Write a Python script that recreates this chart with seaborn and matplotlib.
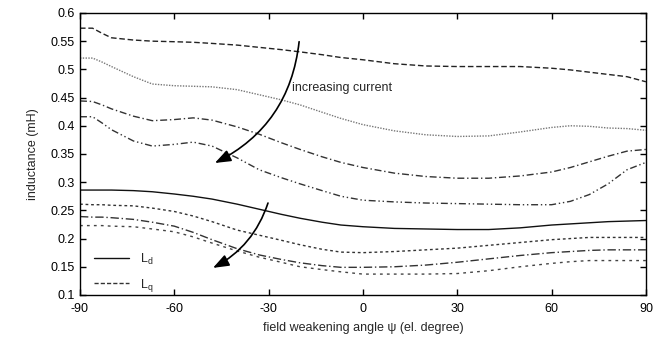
import numpy as np
import pandas as pd
import matplotlib
matplotlib.use("Agg")
import matplotlib.pyplot as plt
import seaborn as sns
from matplotlib.lines import Line2D

# field weakening angle (el. degree)
angle = [-90, -86, -83, -80, -73, -67, -60, -54, -48, -40, -33, -26, -20, -13, -7,
         0, 10, 20, 30, 40, 50, 60, 66, 72, 78, 84, 90]

# upper group (increasing current from top to bottom)
up_1 = [0.573, 0.573, 0.564, 0.556, 0.552, 0.550, 0.549, 0.548, 0.546, 0.543, 0.539, 0.535, 0.531, 0.526,
        0.521, 0.517, 0.510, 0.506, 0.505, 0.505, 0.505, 0.502, 0.499, 0.495, 0.491, 0.487, 0.478]
up_2 = [0.520, 0.520, 0.513, 0.505, 0.487, 0.474, 0.471, 0.470, 0.469, 0.464, 0.455, 0.446, 0.437, 0.424,
        0.413, 0.402, 0.391, 0.384, 0.381, 0.382, 0.389, 0.397, 0.400, 0.399, 0.396, 0.395, 0.392]
up_3 = [0.444, 0.443, 0.437, 0.430, 0.417, 0.409, 0.411, 0.414, 0.410, 0.398, 0.385, 0.370, 0.358, 0.345,
        0.335, 0.326, 0.316, 0.310, 0.307, 0.307, 0.311, 0.318, 0.326, 0.336, 0.346, 0.355, 0.358]
up_4 = [0.416, 0.416, 0.405, 0.393, 0.373, 0.364, 0.367, 0.371, 0.364, 0.343, 0.322, 0.308, 0.297, 0.285,
        0.275, 0.268, 0.265, 0.263, 0.262, 0.261, 0.260, 0.260, 0.266, 0.278, 0.297, 0.322, 0.335]

# lower group
lo_1 = [0.286, 0.286, 0.286, 0.286, 0.285, 0.283, 0.279, 0.275, 0.270, 0.261, 0.252, 0.243, 0.236, 0.229,
        0.224, 0.221, 0.218, 0.217, 0.216, 0.216, 0.219, 0.224, 0.226, 0.228, 0.230, 0.231, 0.232]
lo_2 = [0.261, 0.260, 0.260, 0.259, 0.258, 0.254, 0.248, 0.240, 0.230, 0.215, 0.206, 0.197, 0.189, 0.181,
        0.176, 0.175, 0.177, 0.180, 0.183, 0.188, 0.193, 0.198, 0.200, 0.202, 0.202, 0.202, 0.202]
lo_3 = [0.239, 0.238, 0.238, 0.237, 0.234, 0.229, 0.222, 0.211, 0.198, 0.182, 0.171, 0.163, 0.157, 0.152,
        0.149, 0.149, 0.150, 0.153, 0.158, 0.164, 0.170, 0.175, 0.177, 0.179, 0.180, 0.180, 0.180]
lo_4 = [0.223, 0.223, 0.223, 0.222, 0.221, 0.217, 0.212, 0.203, 0.192, 0.178, 0.167, 0.158, 0.150, 0.145,
        0.141, 0.137, 0.137, 0.137, 0.138, 0.143, 0.150, 0.156, 0.159, 0.161, 0.161, 0.161, 0.161]

x_ticks = [-90, -60, -30, 0, 30, 60, 90]
y_ticks = [0.1, 0.15, 0.2, 0.25, 0.3, 0.35, 0.4, 0.45, 0.5, 0.55, 0.6]
y_tick_labels = ["0.1", "0.15", "0.2", "0.25", "0.3", "0.35", "0.4", "0.45", "0.5", "0.55", "0.6"]

sns.set_style("ticks")
plt.rcParams["font.family"] = ["Liberation Sans", "DejaVu Sans"]
plt.rcParams["mathtext.default"] = "regular"

fig = plt.figure(figsize=(6.7, 3.41), dpi=100)
ax = fig.add_axes([0.1194, 0.135, 0.8446, 0.827])

styles = [
    (up_1, (0, (4, 2)), "#222222"),
    (up_2, (0, (1, 1)), "#777777"),
    (up_3, (0, (5, 2, 1, 2)), "#333333"),
    (up_4, (0, (5, 2, 1, 2, 1, 2)), "#333333"),
    (lo_1, "-", "#111111"),
    (lo_2, (0, (2, 2)), "#333333"),
    (lo_3, (0, (6, 2, 1, 2)), "#333333"),
    (lo_4, (0, (2, 3)), "#444444"),
]
for vals, ls, col in styles:
    sns.lineplot(x=angle, y=vals, ax=ax, color=col, linewidth=1.0)
    ax.lines[-1].set_linestyle(ls)

ax.set_xlim(-90, 90)
ax.set_ylim(0.1, 0.6)
ax.set_xticks(x_ticks)
ax.set_xticklabels([str(t) for t in x_ticks])
ax.set_yticks(y_ticks)
ax.set_yticklabels(y_tick_labels)
ax.tick_params(direction="in", length=4, width=1, top=True, right=True,
               labelsize=9, colors="black", pad=4)
ax.tick_params(axis="x", pad=6)
for s in ax.spines.values():
    s.set_linewidth(1.0)
    s.set_color("black")

ax.set_xlabel("field weakening angle ψ (el. degree)", fontsize=9, labelpad=5)
ax.set_ylabel("inductance (mH)", fontsize=9, labelpad=8)

arrow = dict(arrowstyle="-|>,head_length=0.8,head_width=0.3", color="black", lw=1.2,
             shrinkA=0, shrinkB=0, mutation_scale=12)
ax.annotate("", xy=(-47.1, 0.334), xytext=(-20.3, 0.549),
            arrowprops=dict(arrow, connectionstyle="arc3,rad=-0.27"))
ax.annotate("", xy=(-47.7, 0.148), xytext=(-30.2, 0.263),
            arrowprops=dict(arrow, connectionstyle="arc3,rad=-0.2"))
ax.text(-22.6, 0.467, "increasing current", fontsize=9, va="center", ha="left")

handles = [Line2D([], [], color="#111111", lw=1.0, ls="-"),
           Line2D([], [], color="#333333", lw=1.0, ls=(0, (3, 1.5)))]
ax.legend(handles, ["$L_d$", "$L_q$"], loc="lower left", frameon=False, fontsize=9,
          handlelength=2.8, handletextpad=0.9, labelspacing=0.8,
          bbox_to_anchor=(0.005, -0.035))

fig.savefig("out.png", dpi=100)
